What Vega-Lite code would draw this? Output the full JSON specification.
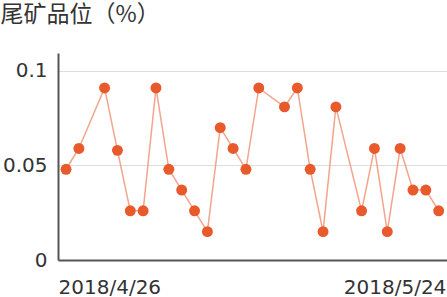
{
  "$schema": "https://vega.github.io/schema/vega-lite/v6.json",
  "width": 389,
  "height": 207,
  "autosize": {"type": "none"},
  "padding": {"left": 58, "top": 53, "right": 0, "bottom": 37},
  "background": "white",
  "config": {"view": {"stroke": null}},
  "data": {
    "values": [
      {"date": "2018-04-26T00:00", "value": 0.048},
      {"date": "2018-04-27T00:00", "value": 0.059},
      {"date": "2018-04-29T00:00", "value": 0.091},
      {"date": "2018-04-30T00:00", "value": 0.058},
      {"date": "2018-05-01T00:00", "value": 0.026},
      {"date": "2018-05-02T00:00", "value": 0.026},
      {"date": "2018-05-03T00:00", "value": 0.091},
      {"date": "2018-05-04T00:00", "value": 0.048},
      {"date": "2018-05-05T00:00", "value": 0.037},
      {"date": "2018-05-06T00:00", "value": 0.026},
      {"date": "2018-05-07T00:00", "value": 0.015},
      {"date": "2018-05-08T00:00", "value": 0.070},
      {"date": "2018-05-09T00:00", "value": 0.059},
      {"date": "2018-05-10T00:00", "value": 0.048},
      {"date": "2018-05-11T00:00", "value": 0.091},
      {"date": "2018-05-13T00:00", "value": 0.081},
      {"date": "2018-05-14T00:00", "value": 0.091},
      {"date": "2018-05-15T00:00", "value": 0.048},
      {"date": "2018-05-16T00:00", "value": 0.015},
      {"date": "2018-05-17T00:00", "value": 0.081},
      {"date": "2018-05-19T00:00", "value": 0.026},
      {"date": "2018-05-20T00:00", "value": 0.059},
      {"date": "2018-05-21T00:00", "value": 0.015},
      {"date": "2018-05-22T00:00", "value": 0.059},
      {"date": "2018-05-23T00:00", "value": 0.037},
      {"date": "2018-05-24T00:00", "value": 0.037},
      {"date": "2018-05-25T00:00", "value": 0.026}
    ]
  },
  "encoding": {
    "x": {
      "field": "date",
      "type": "temporal",
      "scale": {
        "domain": [
          {"year": 2018, "month": 4, "date": 25, "hours": 9},
          {"year": 2018, "month": 5, "date": 25, "hours": 15, "minutes": 30}
        ]
      },
      "axis": {
        "title": null,
        "values": [
          {"year": 2018, "month": 4, "date": 26},
          {"year": 2018, "month": 5, "date": 24}
        ],
        "format": "%Y/%-m/%-d",
        "grid": false,
        "ticks": false,
        "domainColor": "#555555",
        "domainWidth": 2,
        "labelFont": "DejaVu Sans",
        "labelFontSize": 20,
        "labelColor": "#333333",
        "labelPadding": 17,
        "labelBaseline": "top",
        "labelAlign": {"expr": "datum.value < datetime(2018, 4, 1) ? 'left' : 'right'"},
        "labelOffset": {"expr": "datum.value < datetime(2018, 4, 1) ? -8 : 20"},
        "labelOverlap": false
      }
    },
    "y": {
      "field": "value",
      "type": "quantitative",
      "scale": {"domain": [0, 0.1095], "nice": false},
      "axis": {
        "title": "尾矿品位（%）",
        "titleAngle": 0,
        "titleAlign": "left",
        "titleBaseline": "alphabetic",
        "titleX": -58,
        "titleY": -32,
        "titleFont": "Noto Sans CJK SC",
        "titleFontSize": 23,
        "titleFontWeight": "normal",
        "titleColor": "#333333",
        "values": [0, 0.05, 0.1],
        "format": "~g",
        "ticks": false,
        "grid": true,
        "gridColor": "#dddddd",
        "gridWidth": 1,
        "domainColor": "#555555",
        "domainWidth": 2,
        "labelFont": "DejaVu Sans",
        "labelFontSize": 20,
        "labelColor": "#333333",
        "labelPadding": 11
      }
    }
  },
  "layer": [
    {
      "mark": {"type": "line", "color": "#f2a48c", "strokeWidth": 1.5}
    },
    {
      "mark": {"type": "point", "filled": true, "opacity": 1, "color": "#e85a2c", "size": 120}
    }
  ]
}
